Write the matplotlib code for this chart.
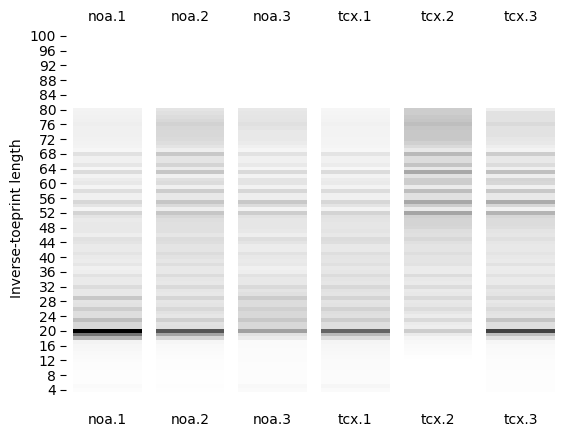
# -*- coding: utf-8 -*-
import numpy as np
import matplotlib
matplotlib.use('Agg')
import matplotlib.pyplot as plt

samples = ['noa.1', 'noa.2', 'noa.3', 'tcx.1', 'tcx.2', 'tcx.3']
first_length = 80  # lengths run from 80 down to 4, anything else is empty

noa1 = [243, 242, 241, 240, 238, 240, 240, 240, 241, 242, 243, 246, 225, 240, 240, 230, 246, 220, 243, 236,
        232, 244, 222, 240, 240, 215, 228, 245, 212, 228, 234, 232, 232, 232, 238, 225, 228, 234, 234, 228,
        234, 236, 230, 240, 238, 226, 234, 234, 220, 232, 232, 200, 228, 226, 205, 222, 222, 190, 215, 215,
        0, 115, 180, 243, 246, 247, 249, 250, 251, 252, 252, 253, 253, 253, 253, 250, 252]
noa2 = [228, 224, 220, 216, 210, 215, 216, 216, 218, 222, 228, 238, 200, 228, 228, 212, 235, 198, 240, 224,
        220, 240, 205, 232, 232, 198, 218, 238, 198, 215, 222, 224, 224, 224, 230, 220, 222, 228, 228, 220,
        226, 230, 222, 232, 232, 220, 230, 232, 218, 230, 232, 214, 230, 228, 216, 226, 230, 208, 226, 224,
        85, 165, 215, 246, 249, 250, 251, 252, 253, 253, 253, 254, 254, 254, 254, 253, 254]
noa3 = [232, 230, 229, 228, 224, 228, 232, 232, 232, 235, 240, 245, 226, 240, 240, 233, 245, 218, 243, 228,
        228, 242, 215, 238, 238, 200, 220, 243, 205, 226, 230, 230, 230, 232, 238, 222, 228, 236, 236, 226,
        232, 234, 232, 240, 238, 226, 232, 232, 218, 228, 224, 204, 220, 220, 208, 216, 216, 200, 216, 216,
        160, 225, 235, 250, 250, 251, 251, 251, 251, 252, 252, 252, 252, 252, 252, 248, 250]
tcx1 = [246, 245, 244, 243, 241, 243, 243, 243, 244, 244, 245, 247, 228, 241, 241, 236, 247, 220, 243, 236,
        234, 243, 220, 240, 240, 215, 228, 243, 212, 226, 228, 230, 230, 228, 232, 220, 222, 232, 232, 222,
        228, 229, 224, 232, 230, 220, 228, 230, 216, 226, 228, 212, 228, 226, 210, 222, 224, 205, 222, 222,
        100, 185, 220, 244, 246, 247, 248, 249, 250, 250, 250, 251, 251, 251, 251, 246, 250]
tcx2 = [205, 205, 200, 197, 190, 198, 200, 200, 200, 208, 218, 232, 185, 220, 220, 196, 232, 168, 225, 205,
        205, 235, 190, 225, 225, 168, 205, 235, 165, 208, 212, 212, 214, 222, 224, 216, 224, 228, 228, 222,
        228, 228, 226, 235, 235, 220, 232, 234, 220, 234, 232, 218, 232, 230, 220, 230, 236, 218, 235, 238,
        205, 235, 245, 248, 250, 251, 252, 254, 255, 255, 255, 255, 255, 255, 255, 255, 255]
tcx3 = [238, 226, 226, 226, 218, 226, 226, 226, 230, 232, 238, 243, 205, 232, 232, 220, 240, 192, 238, 212,
        215, 240, 200, 232, 232, 172, 215, 242, 180, 215, 220, 220, 222, 228, 230, 224, 230, 232, 232, 228,
        232, 234, 226, 236, 235, 226, 234, 234, 222, 230, 228, 216, 232, 228, 218, 226, 228, 196, 222, 222,
        65, 190, 225, 246, 249, 250, 250, 251, 252, 252, 252, 253, 253, 253, 253, 253, 253]
grey_levels = [noa1, noa2, noa3, tcx1, tcx2, tcx3]

W, H = 571, 437
fig = plt.figure(figsize=(W / 100, H / 100), dpi=100)
ax = fig.add_axes([66 / W, 1 - 402.9 / H, 496 / W, 369 / H])

gap = 0.085
for i, levels in enumerate(grey_levels):
    edges = first_length + 0.5 - np.arange(len(levels) + 1)
    column = np.array(levels, dtype=float).reshape(-1, 1)
    ax.pcolormesh([i + gap, i + 1 - gap], edges, column, cmap='gray', vmin=0, vmax=255)

ax.set_xlim(0, len(samples))
ax.set_ylim(0.5, 100.5)
for side in ['top', 'bottom', 'left', 'right']:
    ax.spines[side].set_visible(False)

ax.set_xticks(np.arange(len(samples)) + 0.5)
ax.set_xticklabels(samples)
ax.tick_params(axis='x', length=0, labeltop=True, labelbottom=True, pad=7)
ax.set_yticks(range(4, 101, 4))
ax.tick_params(axis='y', length=4, pad=3)
ax.set_ylabel('Inverse-toeprint length', labelpad=4)

fig.savefig('out.png', dpi=100)
